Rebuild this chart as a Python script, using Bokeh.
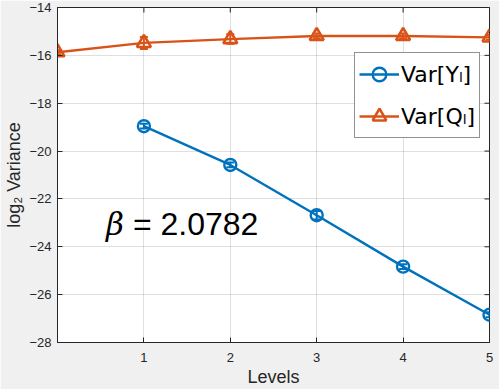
import re
import math
from bokeh.plotting import figure
from bokeh.models import (ColumnDataSource, Whisker, Legend, LegendItem,
                          FixedTicker, Range1d, Label)
from bokeh.embed import file_html
from bokeh.resources import INLINE

# ---- data ----
levels_y = [1, 2, 3, 4, 5]
var_y = [-18.96, -20.58, -22.68, -24.83, -26.84]
err_y = [0.10, 0.10, 0.18, 0.10, 0.10]

levels_q = [0, 1, 2, 3, 4, 5]
var_q = [-15.87, -15.48, -15.32, -15.19, -15.19, -15.25]
err_q = [0.08, 0.25, 0.20, 0.10, 0.10, 0.10]

x_lim = [0, 5]
y_lim = [-28, -14]
x_ticks = [1, 2, 3, 4, 5]
y_ticks = [-28, -26, -24, -22, -20, -18, -16, -14]
beta_symbol = "β"
beta_value = "= 2.0782"
beta_pos = [0.56, -23.05]
series_labels = ["Var[Yₗ]", "Var[Qₗ]"]

BLUE = "#0072BD"
ORANGE = "#D95319"
AX = "#262626"
FONT = "Liberation Sans"

p = figure(width=499, height=389, output_backend="svg", toolbar_location=None,
           x_range=Range1d(*x_lim), y_range=Range1d(*y_lim),
           min_border_left=57, min_border_right=10, min_border_top=7, min_border_bottom=45)
p.background_fill_color = "white"
p.border_fill_color = "#f0f0f0"
p.outline_line_color = AX
p.outline_line_width = 1

for ax in (p.xaxis[0], p.yaxis[0]):
    ax.axis_line_color = AX
    ax.major_tick_line_color = AX
    ax.major_tick_in = 5
    ax.major_tick_out = 0
    ax.minor_tick_line_color = None
    ax.major_label_text_font = FONT
    ax.major_label_text_font_size = "13px"
    ax.major_label_text_color = AX
    ax.axis_label_text_font = FONT
    ax.axis_label_text_font_size = "18px"
    ax.axis_label_text_font_style = "normal"
    ax.axis_label_text_color = AX

p.xaxis.ticker = FixedTicker(ticks=x_ticks)
p.yaxis.ticker = FixedTicker(ticks=y_ticks)
p.xaxis.axis_label = "Levels"
p.yaxis.axis_label = "log₂ Variance"
p.xaxis.major_label_standoff = 10
p.yaxis.major_label_standoff = 6
p.xaxis.axis_label_standoff = 2
p.yaxis.axis_label_standoff = 2

p.xgrid.ticker = FixedTicker(ticks=x_ticks)
p.ygrid.ticker = FixedTicker(ticks=y_ticks)
p.grid.grid_line_color = AX
p.grid.grid_line_alpha = 0.15

# box ticks on top / right edges (half of each dash is clipped by the frame -> inward tick)
p.scatter(x=x_ticks, y=[y_lim[1]] * len(x_ticks), marker="dash", angle=math.pi / 2,
          size=10, line_color=AX, line_width=1)
p.scatter(x=[x_lim[1]] * len(y_ticks), y=y_ticks, marker="dash",
          size=10, line_color=AX, line_width=1)

src_y = ColumnDataSource(dict(x=levels_y, y=var_y,
                              lo=[v - e for v, e in zip(var_y, err_y)],
                              hi=[v + e for v, e in zip(var_y, err_y)]))
src_q = ColumnDataSource(dict(x=levels_q, y=var_q,
                              lo=[v - e for v, e in zip(var_q, err_q)],
                              hi=[v + e for v, e in zip(var_q, err_q)]))

ly = p.line("x", "y", source=src_y, line_color=BLUE, line_width=2.4)
sy = p.scatter("x", "y", source=src_y, marker="circle", size=12, line_color=BLUE,
               line_width=2.4, fill_color=None)
wy = Whisker(source=src_y, base="x", lower="lo", upper="hi", line_color=BLUE, line_width=2)
for h in (wy.upper_head, wy.lower_head):
    h.line_color = BLUE
    h.size = 8
    h.line_width = 2
p.add_layout(wy)

lq = p.line("x", "y", source=src_q, line_color=ORANGE, line_width=2.4)
sq = p.scatter("x", "y", source=src_q, marker="triangle", size=14, line_color=ORANGE,
               line_width=2.6, fill_color=None)
wq = Whisker(source=src_q, base="x", lower="lo", upper="hi", line_color=ORANGE, line_width=2)
for h in (wq.upper_head, wq.lower_head):
    h.line_color = ORANGE
    h.size = 8
    h.line_width = 2
p.add_layout(wq)

p.add_layout(Label(x=beta_pos[0], y=beta_pos[1], text=beta_symbol, text_font="DejaVu Serif",
                   text_font_style="italic", text_font_size="31px", text_color="black",
                   text_baseline="alphabetic"))
p.add_layout(Label(x=beta_pos[0], y=beta_pos[1], x_offset=27, text=beta_value, text_font=FONT,
                   text_font_size="32px", text_color="black", text_baseline="alphabetic"))

legend = Legend(items=[LegendItem(label=series_labels[0], renderers=[ly, sy]),
                       LegendItem(label=series_labels[1], renderers=[lq, sq])],
                location=(297, 204))
legend.label_text_font = "DejaVu Sans"
legend.label_text_font_size = "22px"
legend.label_text_color = "black"
legend.border_line_color = AX
legend.border_line_width = 1
legend.background_fill_color = "white"
legend.background_fill_alpha = 1
legend.glyph_width = 40
legend.glyph_height = 34
legend.label_height = 34
legend.spacing = 8
legend.padding = 4
legend.margin = 0
legend.label_standoff = 2
p.add_layout(legend, "center")

html = file_html(p, INLINE)
html = re.sub(r"<body[^>]*>", '<body style="margin:0;background:#f0f0f0;overflow:hidden;">', html, count=1)
open("out.html", "w").write(html)
